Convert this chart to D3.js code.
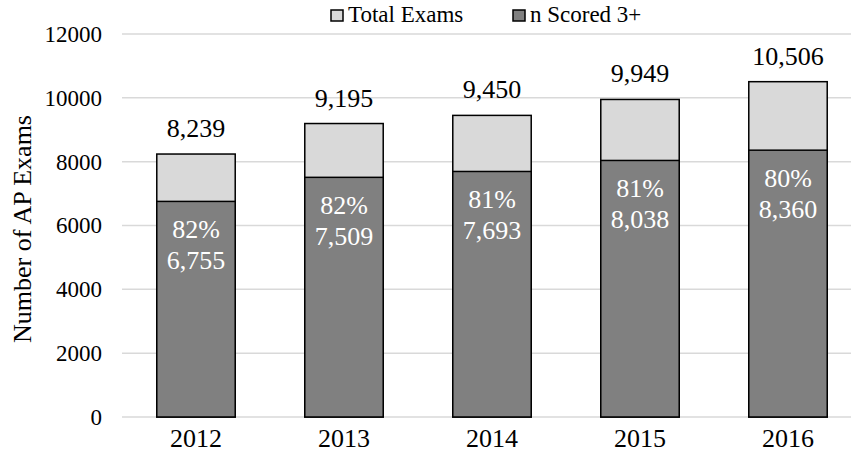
<!DOCTYPE html>
<html>
<head>
<meta charset="utf-8">
<script src="https://cdn.jsdelivr.net/npm/d3@7"></script>
<style>
  body { margin: 0; background: #fff; }
  svg { display: block; }
  svg text { font-family: "Liberation Serif", serif; }
</style>
</head>
<body>
<div class="chart"></div>
<script>
"use strict";

const YEARS = ["2012", "2013", "2014", "2015", "2016"];
const TOTAL = [8239, 9195, 9450, 9949, 10506];
const SCORED = [6755, 7509, 7693, 8038, 8360];
const PCT = ["82%", "82%", "81%", "81%", "80%"];
const Y_TICKS = [0, 2000, 4000, 6000, 8000, 10000, 12000];

const W = 851, H = 452;
const FONT = "Liberation Serif";
const fmt = d3.format(",");

const data = YEARS.map((y, i) => ({ year: y, total: TOTAL[i], scored: SCORED[i], pct: PCT[i] }));

const svg = d3.select(".chart").append("svg").attr("width", W).attr("height", H);

const x = d3.scaleBand().domain(YEARS).range([122, 862]).paddingInner(0.47).paddingOuter(0.235);
const y = d3.scaleLinear().domain([0, 12000]).range([417, 34]);

// gridlines
svg.append("g")
  .selectAll("line")
  .data(Y_TICKS)
  .join("line")
  .attr("x1", 122)
  .attr("x2", W)
  .attr("y1", (d) => y(d))
  .attr("y2", (d) => y(d))
  .attr("stroke", "#d9d9d9")
  .attr("stroke-width", 1.5);

// y axis labels
const yAxis = d3.axisLeft(y).tickValues(Y_TICKS).tickSize(0).tickPadding(0).tickFormat(d3.format("d"));
svg.append("g")
  .attr("transform", "translate(102,0)")
  .call(yAxis)
  .attr("font-family", FONT)
  .call((g) => g.select(".domain").remove())
  .selectAll("text")
  .attr("font-size", 23)
  .attr("fill", "#000");

// x axis labels
const xAxis = d3.axisBottom(x).tickSize(0).tickPadding(0);
svg.append("g")
  .attr("transform", "translate(0,429)")
  .call(xAxis)
  .attr("font-family", FONT)
  .call((g) => g.select(".domain").remove())
  .selectAll("text")
  .attr("dy", "0.7em")
  .attr("font-size", 26)
  .attr("fill", "#000");

// total bars
svg.append("g")
  .selectAll("rect")
  .data(data)
  .join("rect")
  .attr("x", (d) => x(d.year))
  .attr("y", (d) => y(d.total))
  .attr("width", x.bandwidth())
  .attr("height", (d) => y(0) - y(d.total))
  .attr("fill", "#d9d9d9")
  .attr("stroke", "#000")
  .attr("stroke-width", 1.5);

// scored bars
svg.append("g")
  .selectAll("rect")
  .data(data)
  .join("rect")
  .attr("x", (d) => x(d.year))
  .attr("y", (d) => y(d.scored))
  .attr("width", x.bandwidth())
  .attr("height", (d) => y(0) - y(d.scored))
  .attr("fill", "#808080")
  .attr("stroke", "#000")
  .attr("stroke-width", 1.5);

// total labels
svg.append("g")
  .selectAll("text")
  .data(data)
  .join("text")
  .attr("x", (d) => x(d.year) + x.bandwidth() / 2)
  .attr("y", (d) => y(d.total) - 17)
  .attr("text-anchor", "middle")
  .attr("font-family", FONT)
  .attr("font-size", 26)
  .text((d) => fmt(d.total));

// inner labels
const inner = svg.append("g")
  .selectAll("text")
  .data(data)
  .join("text")
  .attr("text-anchor", "middle")
  .attr("font-family", FONT)
  .attr("font-size", 26)
  .attr("fill", "#fff");
inner.append("tspan")
  .attr("x", (d) => x(d.year) + x.bandwidth() / 2)
  .attr("y", (d) => y(d.scored) + 37)
  .text((d) => d.pct);
inner.append("tspan")
  .attr("x", (d) => x(d.year) + x.bandwidth() / 2)
  .attr("y", (d) => y(d.scored) + 68)
  .text((d) => fmt(d.scored));

// y title
svg.append("text")
  .attr("transform", "translate(31,229) rotate(-90)")
  .attr("text-anchor", "middle")
  .attr("font-family", FONT)
  .attr("font-size", 26)
  .text("Number of AP Exams");

// legend
const legend = [
  { name: "Total Exams", color: "#d9d9d9", x: 331 },
  { name: "n Scored 3+", color: "#808080", x: 513 }
];
const lg = svg.append("g").selectAll("g").data(legend).join("g");
lg.append("rect")
  .attr("x", (d) => d.x)
  .attr("y", 10)
  .attr("width", 12)
  .attr("height", 11)
  .attr("fill", (d) => d.color)
  .attr("stroke", "#000")
  .attr("stroke-width", 1.5);
lg.append("text")
  .attr("x", (d) => d.x + 17)
  .attr("y", 21.5)
  .attr("font-family", FONT)
  .attr("font-size", 23)
  .text((d) => d.name);
</script>
</body>
</html>
